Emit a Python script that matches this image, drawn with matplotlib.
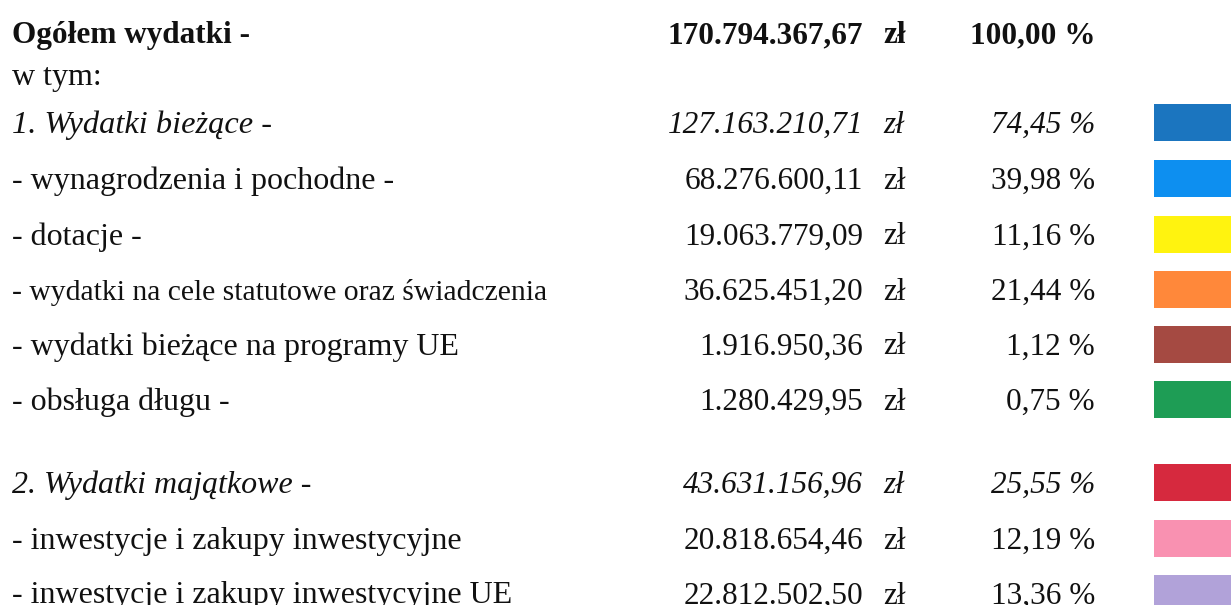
import matplotlib.pyplot as plt

# rows of the expenditure summary (None = no value / swatch)
labels = ['Ogółem wydatki -', 'w tym:', '1. Wydatki bieżące -',
          '- wynagrodzenia i pochodne -', '- dotacje -',
          '- wydatki na cele statutowe oraz świadczenia',
          '- wydatki bieżące na programy UE', '- obsługa długu -',
          '2. Wydatki majątkowe -', '- inwestycje i zakupy inwestycyjne',
          '- inwestycje i zakupy inwestycyjne UE']
amounts = [170794367.67, None, 127163210.71, 68276600.11, 19063779.09,
           36625451.20, 1916950.36, 1280429.95, 43631156.96,
           20818654.46, 22812502.50]
shares = [100.00, None, 74.45, 39.98, 11.16, 21.44, 1.12, 0.75, 25.55, 12.19, 13.36]
colors = [None, None, '#1b75bf', '#0d8ff0', '#fff30f', '#ff883a', '#a54a42',
          '#1e9d55', '#d6293e', '#f991b1', '#b1a2d9']
styles = ['bold', 'normal', 'italic', 'normal', 'normal', 'normal', 'normal',
          'normal', 'italic', 'normal', 'normal']

# layout (pixels, top-down)
baselines = [43, 85, 133, 189, 244.5, 299.5, 354.5, 410, 493, 549, 603.5]
label_fs = [22.5, 23, 23.3, 23, 23, 21.3, 23, 23, 23, 23, 23]
SW_H = 37

def pl_money(v):
    return f'{v:,.2f}'.replace(',', ' ').replace('.', ',').replace(' ', '.')

def pl_pct(v):
    return f'{v:.2f}'.replace('.', ',') + ' %'

fig = plt.figure(figsize=(12.31, 6.05), dpi=100)
ax = fig.add_axes([0, 0, 1, 1])
ax.set_xlim(0, 1231); ax.set_ylim(605, 0); ax.axis('off')

FS = 22.5
for lab, amt, sh, col, st, yb, lfs in zip(labels, amounts, shares, colors, styles, baselines, label_fs):
    kw = dict(family='Liberation Serif', va='baseline', color='#111111')
    if st == 'bold': kw['fontweight'] = 'bold'
    if st == 'italic': kw['fontstyle'] = 'italic'
    ax.text(12, yb, lab, ha='left', fontsize=lfs, **kw)
    if amt is not None:
        ax.text(863, yb, pl_money(amt), ha='right', fontsize=FS, **kw)
        ax.text(883, yb, 'zł', ha='left', fontsize=FS, **kw)
        ax.text(1095, yb, pl_pct(sh), ha='right', fontsize=FS, **kw)
    if col is not None:
        ax.barh(yb - 10.5, 90, left=1154, height=SW_H, color=col, edgecolor='none')

plt.savefig('out.png', dpi=100)
